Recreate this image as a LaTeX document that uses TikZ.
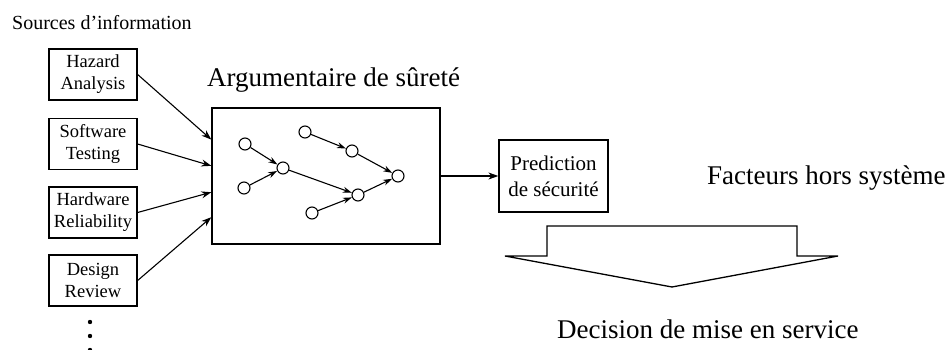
\documentclass[tikz,border=0pt]{standalone}
\usepackage{fontspec}
\setmainfont{Liberation Serif}
\usetikzlibrary{arrows.meta,calc}

\tikzset{
  srcbox/.style={draw, line width=1.3pt, minimum width=88pt, minimum height=51pt, inner sep=0pt, align=center, font=\fontsize{18.5}{22}\selectfont},
  predbox/.style={draw, line width=1.3pt, minimum width=109pt, minimum height=72pt, inner sep=0pt, align=center, font=\fontsize{21}{26}\selectfont},
  argnode/.style={circle, draw, line width=1.1pt, minimum size=12pt, inner sep=0pt},
  bigtext/.style={font=\fontsize{27}{30}\selectfont, inner sep=0pt, anchor=base west},
  arr/.style={-{Stealth[length=10pt,width=7pt]}, line width=1.1pt},
  smallarr/.style={-{Stealth[length=9pt,width=6pt]}, line width=1.1pt}
}

\begin{document}
\begin{tikzpicture}[x=1pt,y=1pt,yscale=-1,xscale=1]
\useasboundingbox (0,0) rectangle (951,350);

%Sources
\node[font=\fontsize{20}{22}\selectfont, inner sep=0pt, anchor=base west] (src) at (12,30) {Sources d'information};
\node[srcbox] (haz) at (93,74.5) {Hazard\\Analysis};
\node[srcbox] (soft) at (93,144) {Software\\Testing};
\node[srcbox] (hard) at (93,212.5) {Hardware\\Reliability};
\node[srcbox] (des) at (93,280.5) {Design\\Review};
\foreach \y in {322,336,350}
  \fill (90,\y) circle (2.2pt);

%Argumentaire
\node[bigtext] (argtitle) at (207,87) {Argumentaire de sûreté};
\node[draw, line width=1.3pt, minimum width=228pt, minimum height=136pt] (arg) at (326,176) {};

%Straight Lines
\draw[arr] (haz.east) -- ($(arg.north west)!0.235!(arg.south west)$);
\draw[arr] (soft.east) -- ($(arg.north west)!0.426!(arg.south west)$);
\draw[arr] (hard.east) -- ($(arg.north west)!0.618!(arg.south west)$);
\draw[arr] (des.east) -- ($(arg.north west)!0.80!(arg.south west)$);

%inner argument graph
\node[argnode] (a1) at (245,144) {};
\node[argnode] (a2) at (244,188) {};
\node[argnode] (a3) at (283,168) {};
\node[argnode] (a4) at (305,132) {};
\node[argnode] (a5) at (352,151) {};
\node[argnode] (a6) at (358,195) {};
\node[argnode] (a7) at (312,213) {};
\node[argnode] (a8) at (398,176) {};
\draw[smallarr] (a1) -- (a3);
\draw[smallarr] (a2) -- (a3);
\draw[smallarr] (a3) -- (a6);
\draw[smallarr] (a7) -- (a6);
\draw[smallarr] (a4) -- (a5);
\draw[smallarr] (a5) -- (a8);
\draw[smallarr] (a6) -- (a8);

%Prediction
\node[predbox] (pred) at (553.5,176) {Prediction\\de sécurité};
\draw[arr] (arg.east) -- (pred.west);

\node[bigtext] (fact) at (707,185) {Facteurs hors système};

%Shape: big arrow
\draw[line width=1.3pt] (547,256) -- (547,226) -- (797,226) -- (797,256) -- (838,256) -- (672,287) -- (505,256) -- cycle;

\node[bigtext] (dec) at (557,338) {Decision de mise en service};
\end{tikzpicture}
\end{document}
